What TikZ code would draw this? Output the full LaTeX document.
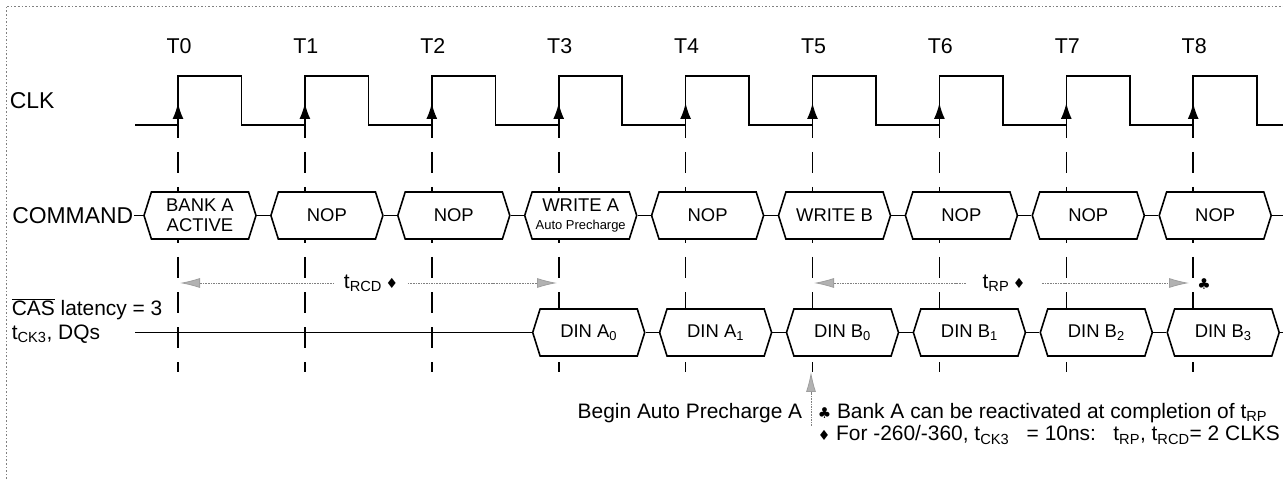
\documentclass[tikz,border=0pt]{standalone}
\usepackage{fontspec}
\setmainfont{Liberation Sans}
\newfontfamily\symfont{DejaVu Sans}
\usetikzlibrary{positioning,arrows.meta,shapes.symbols}
\tikzset{
x=1bp, y=-1bp, % one unit is one pixel, y runs down the page
every path/.style={line width=1.6bp},
every node/.style={font=\fontsize{21}{23}\selectfont,align=center,inner sep=0pt},
bus/.style={signal, signal to=west and east, signal pointer angle=145, draw, fill=white,
            minimum width=112bp, minimum height=47bp, font=\fontsize{18.5}{20}\selectfont},
big/.style={font=\fontsize{23}{24}\selectfont},
tick/.style={dash pattern=on 21bp off 14bp},
span/.style={densely dotted, gray, line width=0.8bp,
             -{Latex[length=20bp,width=10bp,fill=gray!60,color=gray!75]}},
}
\newcommand\club{{\symfont\fontsize{15}{15}\selectfont ♣}}
\newcommand\diam{{\symfont\fontsize{14}{14}\selectfont ♦}}

\begin{document}
\begin{tikzpicture}
\useasboundingbox (0,0) rectangle (1283,479);
\draw[dotted, gray, line width=0.8bp] (6,479) -- (6,6) -- (1283,6);

% clock edges T0..T8
\foreach \t [count=\i from 0] in {178,304.9,431.8,558.7,685.6,812.5,939.4,1066.3,1193.2} {
  \node[font=\fontsize{21.5}{23}\selectfont] (t\i) at (\t+1,46) {T\i};
  \draw[tick] (\t,117) -- (\t,372);
  \draw[-{Latex[length=16bp,width=11bp]}] (\t,125) -- (\t,103);
}
\draw (135,125)
  \foreach \t in {178,304.9,431.8,558.7,685.6,812.5,939.4,1066.3,1193.2} {
    -- (\t,125) -- (\t,76) -- (\t+63.5,76) -- (\t+63.5,125)
  } -- (1283,125);
\node[big, anchor=west] (clk) at (9,100.5) {CLK};

% command bus
\node[big, anchor=east] (command) at (134,215.5) {COMMAND};
\node[bus] (cmd0) at (200,215.5) {BANK A\\ACTIVE};
\node[bus] (cmd1) at (326.9,215.5) {NOP};
\node[bus] (cmd2) at (453.8,215.5) {NOP};
\node[bus] (cmd3) at (580.7,215.5) {WRITE A\\[-2bp]{\fontsize{13}{14}\selectfont Auto Precharge}};
\node[bus] (cmd4) at (707.6,215.5) {NOP};
\node[bus] (cmd5) at (834.5,215.5) {WRITE B};
\node[bus] (cmd6) at (961.4,215.5) {NOP};
\node[bus] (cmd7) at (1088.3,215.5) {NOP};
\node[bus] (cmd8) at (1215.2,215.5) {NOP};
\coordinate (cmdout) at (1283,215.5);
\draw (command.east) -- (cmd0.west);
\draw (cmd0.east) -- (cmd1.west);
\draw (cmd1.east) -- (cmd2.west);
\draw (cmd2.east) -- (cmd3.west);
\draw (cmd3.east) -- (cmd4.west);
\draw (cmd4.east) -- (cmd5.west);
\draw (cmd5.east) -- (cmd6.west);
\draw (cmd6.east) -- (cmd7.west);
\draw (cmd7.east) -- (cmd8.west);
\draw (cmd8.east) -- (cmdout);

% timing spans
\node[inner xsep=9bp] (trcd) at (371,283) {t\textsubscript{RCD}\,\diam};
\coordinate (rcdl) at (180,283);
\coordinate (rcdr) at (557,283);
\draw[span] (trcd.west) -- (rcdl);
\draw[span] (trcd.east) -- (rcdr);
\node[inner xsep=16bp] (trp) at (1004,283) {t\textsubscript{RP}\,\diam};
\coordinate (rpl) at (814,283);
\coordinate (rpr) at (1189,283);
\draw[span] (trp.west) -- (rpl);
\draw[span] (trp.east) -- (rpr);
\node (rpclub) at (1204,284) {\club};

% data bus
\node[anchor=west] (cas) at (11,309) {$\overline{\mbox{CAS}}$ latency = 3};
\node[below=25bp of cas.west, anchor=west] (dqs) {t\textsubscript{CK3}, DQs};
\coordinate (dqin) at (135,332.5);
\node[bus] (dq3) at (588.7,332.5) {DIN A\textsubscript{0}};
\node[bus] (dq4) at (715.6,332.5) {DIN A\textsubscript{1}};
\node[bus] (dq5) at (842.5,332.5) {DIN B\textsubscript{0}};
\node[bus] (dq6) at (969.4,332.5) {DIN B\textsubscript{1}};
\node[bus] (dq7) at (1096.3,332.5) {DIN B\textsubscript{2}};
\node[bus] (dq8) at (1223.2,332.5) {DIN B\textsubscript{3}};
\coordinate (dqout) at (1283,332.5);
\draw (dqin) -- (dq3.west);
\draw (dq3.east) -- (dq4.west);
\draw (dq4.east) -- (dq5.west);
\draw (dq5.east) -- (dq6.west);
\draw (dq6.east) -- (dq7.west);
\draw (dq7.east) -- (dq8.west);
\draw (dq8.east) -- (dqout);

% notes
\coordinate (apc) at (811,372);
\coordinate (apcfoot) at (811,426);
\draw[span] (apcfoot) -- (apc);
\node[anchor=east] (begin) at (803,413) {Begin Auto Precharge A};
\node[anchor=west] (bank) at (817,413) {\club\ Bank A can be reactivated at completion of t\textsubscript{RP}};
\node[below=22bp of bank.west, anchor=west] (for) {\diam\ For -260/-360, t\textsubscript{CK3}\ \ \ = 10ns:\ \ \ t\textsubscript{RP}, t\textsubscript{RCD}= 2 CLKS};
\end{tikzpicture}
\end{document}
